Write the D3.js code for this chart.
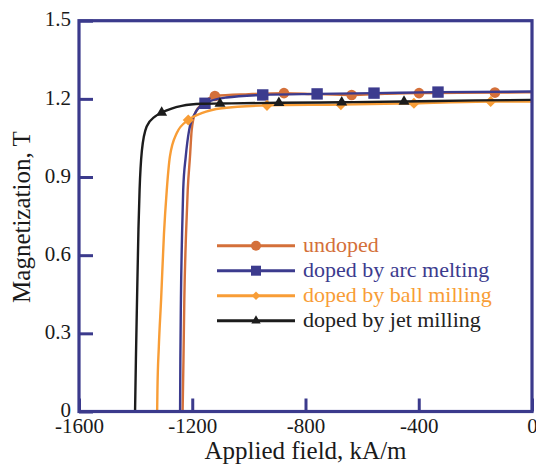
<!DOCTYPE html>
<html>
<head>
<meta charset="utf-8">
<script src="https://cdn.jsdelivr.net/npm/d3@7"></script>
<style>
	body { margin: 0; background: #fff; }
	text { font-family: "Liberation Serif", "Times New Roman", serif; }
</style>
</head>
<body>
<div id="container"></div>
<script>
// applied field (kA/m), magnetization (T)
var seriesNames = ["undoped", "doped by arc melting", "doped by ball milling", "doped by jet milling"];

var undoped = [[-1234, 0], [-1231, 0.2], [-1228, 0.43], [-1222, 0.68], [-1216, 0.85], [-1208, 0.978],
	[-1202, 1.08], [-1190, 1.145], [-1162, 1.183], [-1120, 1.211], [-1000, 1.218], [-876, 1.222],
	[-760, 1.218], [-637, 1.215], [-520, 1.219], [-399, 1.222], [-260, 1.223], [-131, 1.224], [0, 1.225]];
var undopedMarks = [[-1120, 1.211], [-876, 1.222], [-637, 1.215], [-399, 1.222], [-131, 1.224]];

var arcMelting = [[-1243, 0], [-1242, 0.2], [-1240, 0.43], [-1236, 0.68], [-1232, 0.85], [-1223, 0.978],
	[-1211, 1.08], [-1190, 1.145], [-1155, 1.183], [-1080, 1.205], [-951, 1.215], [-759, 1.219],
	[-558, 1.222], [-332, 1.226], [0, 1.228]];
var arcMeltingMarks = [[-1155, 1.183], [-951, 1.215], [-759, 1.219], [-558, 1.222], [-332, 1.226]];

var ballMilling = [[-1324, 0], [-1323, 0.08], [-1318, 0.25], [-1310, 0.43], [-1300, 0.68], [-1290, 0.85],
	[-1279, 0.978], [-1255, 1.068], [-1214, 1.119], [-1167, 1.145], [-1096, 1.164], [-936, 1.175],
	[-675, 1.178], [-417, 1.183], [-146, 1.19], [0, 1.19]];
var ballMillingMarks = [[-1214, 1.119], [-936, 1.175], [-675, 1.178], [-417, 1.183], [-146, 1.19]];

var jetMilling = [[-1402, 0], [-1399, 0.2], [-1395, 0.43], [-1390, 0.7], [-1386, 0.85], [-1378, 1.0],
	[-1361, 1.094], [-1332, 1.132], [-1308, 1.147], [-1237, 1.173], [-1167, 1.181], [-1102, 1.182],
	[-894, 1.185], [-672, 1.187], [-452, 1.19], [-200, 1.194], [0, 1.196]];
var jetMillingMarks = [[-1308, 1.147], [-1102, 1.182], [-894, 1.185], [-672, 1.187], [-452, 1.19]];

var xTicks = [-1600, -1200, -800, -400, 0];
var yTicks = [0, 0.3, 0.6, 0.9, 1.2, 1.5];

var margin = {top: 20.7, right: 4, bottom: 53.5, left: 79},
	width = 536 - margin.left - margin.right,
	height = 465 - margin.top - margin.bottom;

var frameColor = "#3b3a8c";

var series = [
	{name: seriesNames[0], line: undoped, marks: undopedMarks, color: "#d4703a", text: "#d4703a",
		symbol: d3.symbolCircle, size: 88, legendSize: 78, rot: 0},
	{name: seriesNames[1], line: arcMelting, marks: arcMeltingMarks, color: "#3c3b8e", text: "#3c3b8e",
		symbol: d3.symbolSquare, size: 130, legendSize: 100, rot: 0},
	{name: seriesNames[2], line: ballMilling, marks: ballMillingMarks, color: "#f89d36", text: "#f89d36",
		symbol: d3.symbolSquare, size: 62, legendSize: 36, rot: 45},
	{name: seriesNames[3], line: jetMilling, marks: jetMillingMarks, color: "#1c1c1c", text: "#222",
		symbol: d3.symbolTriangle, size: 52, legendSize: 38, rot: 0}
];

var x = d3.scaleLinear().domain([-1600, 0]).range([0, width]);
var y = d3.scaleLinear().domain([0, 1.5]).range([height, 0]);

var svg = d3.select("#container").append("svg")
	.attr("width", 536)
	.attr("height", 465);

var g = svg.append("g").attr("transform", "translate(" + margin.left + "," + margin.top + ")");

var line = d3.line()
	.x(function(d) { return x(d[0]); })
	.y(function(d) { return y(d[1]); })
	.curve(d3.curveMonotoneX);

// curves, drawn from the slowest to saturate so the black one sits on top
series.forEach(function(s) {
	g.append("path")
		.datum(s.line)
		.attr("fill", "none")
		.attr("stroke", s.color)
		.attr("stroke-width", 2.4)
		.attr("d", line);

	g.selectAll(null)
		.data(s.marks)
		.enter().append("path")
		.attr("transform", function(d) { return "translate(" + x(d[0]) + "," + y(d[1]) + ") rotate(" + s.rot + ")"; })
		.attr("d", d3.symbol().type(s.symbol).size(s.size))
		.attr("fill", s.color);
});

// axes with inward ticks
var xAxis = d3.axisBottom(x)
	.tickValues(xTicks)
	.tickSize(-13)
	.tickPadding(7)
	.tickFormat(function(d) { return String(d); });

var yAxis = d3.axisLeft(y)
	.tickValues(yTicks)
	.tickSize(-14)
	.tickPadding(8)
	.tickFormat(function(d) { return d === 0 ? "0" : d3.format(".1f")(d); });

var gx = g.append("g")
	.attr("transform", "translate(0," + height + ")")
	.call(xAxis);
var gy = g.append("g").call(yAxis);

[gx, gy].forEach(function(a) {
	a.select(".domain").remove();
	a.selectAll(".tick line").attr("stroke", frameColor).attr("stroke-width", 3);
	a.selectAll(".tick text")
		.attr("fill", "#1a1a1a")
		.style("font-size", "21px")
		.style("font-family", "'Liberation Serif', serif");
});
gy.selectAll(".tick text").attr("dy", "0.25em");

// frame
g.append("rect")
	.attr("x", 0)
	.attr("y", 0)
	.attr("width", width)
	.attr("height", height)
	.attr("fill", "none")
	.attr("stroke", frameColor)
	.attr("stroke-width", 3.2);

// axis titles
g.append("text")
	.attr("x", width / 2)
	.attr("y", height + 48)
	.attr("text-anchor", "middle")
	.attr("fill", "#1a1a1a")
	.style("font-size", "25px")
	.text("Applied field, kA/m");

g.append("text")
	.attr("transform", "rotate(-90)")
	.attr("x", -height / 2 - 1)
	.attr("y", -49)
	.attr("text-anchor", "middle")
	.attr("fill", "#1a1a1a")
	.style("font-size", "25px")
	.text("Magnetization, T");

// legend
var legend = g.append("g").attr("transform", "translate(138,225)");

var rows = legend.selectAll("g")
	.data(series)
	.enter().append("g")
	.attr("transform", function(d, i) { return "translate(0," + (i * 25) + ")"; });

rows.append("line")
	.attr("x1", 0)
	.attr("x2", 78)
	.attr("stroke", function(d) { return d.color; })
	.attr("stroke-width", 3);

rows.append("path")
	.attr("transform", function(d) { return "translate(39,0) rotate(" + d.rot + ")"; })
	.attr("d", function(d) { return d3.symbol().type(d.symbol).size(d.legendSize)(); })
	.attr("fill", function(d) { return d.color; });

rows.append("text")
	.attr("x", 86)
	.attr("dy", "0.3em")
	.attr("fill", function(d) { return d.text; })
	.style("font-size", "22px")
	.text(function(d) { return d.name; });
</script>
</body>
</html>
